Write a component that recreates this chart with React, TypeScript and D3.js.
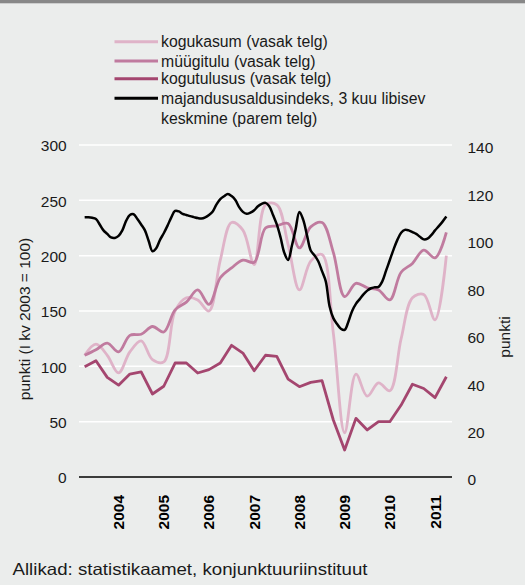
import React from "react";
import * as d3 from "d3";

const quarters: string[] = [
  "2003Q2","2003Q3","2003Q4",
  "2004Q1","2004Q2","2004Q3","2004Q4",
  "2005Q1","2005Q2","2005Q3","2005Q4",
  "2006Q1","2006Q2","2006Q3","2006Q4",
  "2007Q1","2007Q2","2007Q3","2007Q4",
  "2008Q1","2008Q2","2008Q3","2008Q4",
  "2009Q1","2009Q2","2009Q3","2009Q4",
  "2010Q1","2010Q2","2010Q3","2010Q4",
  "2011Q1","2011Q2",
];
const yearLabels = ["2004","2005","2006","2007","2008","2009","2010","2011"];

const kogukasum = [110,120,110,94,113,123,106,104,150,162,160,150,196,230,223,192,246,246,210,169,195,201,130,40,93,73,85,78,125,162,165,142,200];
const myygitulu = [110,115,121,113,128,129,136,131,151,158,169,156,180,189,196,194,225,227,229,207,226,230,203,163,175,171,169,160,185,193,205,198,221];
const kogutulusus = [99.7,105,90,83,93,95,75,82,103,103,94,97,103,119,112,96,110,109,88.5,81.6,85.5,87,51.5,24.4,53,42.5,50,50,65,83.8,80,71.7,90.6];

// monthly, 3-month moving average (right axis)
const majandususaldus = [
  109.5,109.5,109.3,108.8,106.5,104,102.5,101,100.8,101.7,104,108,
  110.5,110.8,108.8,106.5,104,99.5,95.2,96.5,100,102.8,106,109.5,
  112.2,112,111,110.5,110,109.6,109.2,109,109.5,110.5,112,115,
  117.2,118.4,119.3,118.5,116.8,113.8,111.8,111,111.5,112.5,114.2,115.2,
  115.6,114.2,110.5,106.5,101,94.5,91.5,97.5,104.5,111.8,108.5,102,
  95.5,93.5,91,86.8,82.5,72,67,64.5,62.5,62,65.5,70,
  73,75,77,78.6,79.6,80,80.2,82.5,87,91.5,96,100,
  103,104.2,104,103.3,102.5,101.3,100.2,100.5,102,104,105.8,107.7,
  109.8,
];

const leftTicks = [0, 50, 100, 150, 200, 250, 300];
const rightTicks = [0, 20, 40, 60, 80, 100, 120, 140];

const legendItems = [
  { label: ["kogukasum (vasak telg)"], color: "#dfb3c8" },
  { label: ["müügitulu (vasak telg)"], color: "#c07b9f" },
  { label: ["kogutulusus (vasak telg)"], color: "#a4466f" },
  { label: ["majandususaldusindeks, 3 kuu libisev", "keskmine (parem telg)"], color: "#000000" },
];

const W = 525, H = 585;
const plot = { left: 79, right: 452, top: 145, bottom: 477 };
const FONT = "'Liberation Sans', Arial, Helvetica, sans-serif";

export default function App() {
  const x = d3.scaleBand<string>().domain(quarters).range([plot.left, plot.right]).paddingInner(0).paddingOuter(0);
  const xc = (i: number) => (x(quarters[0]) as number) + x.bandwidth() / 2 + i * x.step();
  const yL = d3.scaleLinear().domain([0, 300]).range([plot.bottom, plot.top]);
  const yR = d3.scaleLinear().domain([0, 140]).range([plot.bottom, plot.top]);

  const smooth = d3.line<number>().x((_, i) => xc(i)).y((d) => yL(d)).curve(d3.curveCatmullRom.alpha(0.5));
  const straight = d3.line<number>().x((_, i) => xc(i)).y((d) => yL(d)).curve(d3.curveLinear);
  const blackLine = d3.line<number>().x((_, i) => xc(i / 3)).y((d) => yR(d)).curve(d3.curveCatmullRom.alpha(0.5));

  const legendRows = [41.7, 61, 78.7, 98.3];

  return (
    <svg width={W} height={H} style={{ display: "block", position: "absolute", left: 0, top: 0 }} fontFamily={FONT}>
      <rect x={0} y={0} width={W} height={H} fill="#ebedec" />
      <rect x={0} y={0} width={W} height={3.3} fill="#888888" />

      {/* legend */}
      {legendItems.map((it, i) => (
        <g key={i}>
          <line x1={114.5} x2={158} y1={legendRows[i]} y2={legendRows[i]} stroke={it.color} strokeWidth={3} />
          {it.label.map((t, j) => (
            <text key={j} x={161} y={legendRows[i] + j * 19.7} dy="0.35em" fontSize={15.8} fill="#1a1a1a">{t}</text>
          ))}
        </g>
      ))}

      {/* gridlines */}
      {leftTicks.filter((t) => t > 0).map((t) => (
        <line key={t} x1={plot.left} x2={plot.right} y1={yL(t)} y2={yL(t)} stroke="#ffffff" strokeWidth={1.5} />
      ))}

      {/* left ticks */}
      {leftTicks.map((t) => (
        <text key={t} x={66.7} y={yL(t) + 1} dy="0.35em" textAnchor="end" fontSize={15.5} fill="#1a1a1a">{t}</text>
      ))}
      {/* right ticks */}
      {rightTicks.map((t) => (
        <text key={t} x={467.5} y={yR(t) + 3} dy="0.35em" textAnchor="start" fontSize={15.5} fill="#1a1a1a">{t}</text>
      ))}

      {/* axis titles */}
      <text transform={`translate(30,319) rotate(-90)`} textAnchor="middle" fontSize={15.5} fill="#1a1a1a">punkti (I kv 2003 = 100)</text>
      <text transform={`translate(510,337) rotate(-90)`} textAnchor="middle" fontSize={15.5} fill="#1a1a1a">punkti</text>

      {/* year labels */}
      {yearLabels.map((yr) => {
        const i = quarters.indexOf(yr + "Q1");
        return (
          <text key={yr} transform={`translate(${xc(i) + 5.5},495) rotate(-90)`} textAnchor="end" fontSize={15.5} fontWeight="bold" fill="#000">{yr}</text>
        );
      })}

      {/* series */}
      <path d={smooth(kogukasum) || ""} fill="none" stroke="#dfb3c8" strokeWidth={2.8} strokeLinejoin="round" />
      <path d={smooth(myygitulu) || ""} fill="none" stroke="#c07b9f" strokeWidth={2.8} strokeLinejoin="round" />
      <path d={straight(kogutulusus) || ""} fill="none" stroke="#a4466f" strokeWidth={2.8} strokeLinejoin="round" />
      <path d={blackLine(majandususaldus) || ""} fill="none" stroke="#000" strokeWidth={2.5} strokeLinejoin="round" />

      {/* x axis line */}
      <line x1={plot.left} x2={plot.right} y1={plot.bottom} y2={plot.bottom} stroke="#000" strokeWidth={1.4} />

      {/* source */}
      <text x={12.5} y={575} fontSize={16.5} textLength={355} lengthAdjust="spacingAndGlyphs" fill="#1a1a1a">Allikad: statistikaamet, konjunktuuriinstituut</text>
    </svg>
  );
}
